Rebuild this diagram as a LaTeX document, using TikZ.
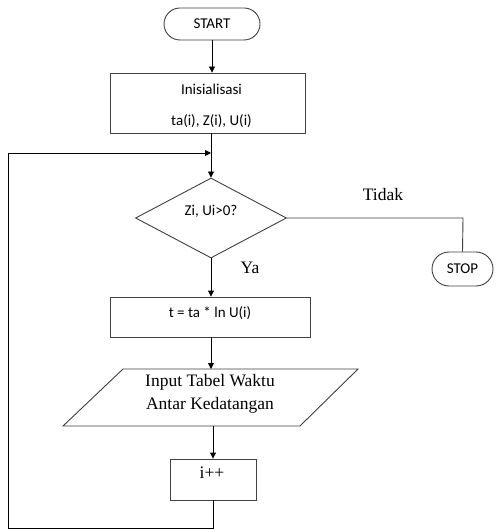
\documentclass[tikz,border=0pt]{standalone}
\usepackage{fontspec}
\setmainfont{Liberation Serif}
\newfontfamily\calfont{Carlito}
\usetikzlibrary{shapes.geometric,shapes.misc,arrows.meta}
\begin{document}
\begin{tikzpicture}[x=1pt,y=-1pt,
  ln/.style={draw=black!75,line width=0.9pt},
  arr/.style={draw=black,line width=0.9pt,-{Triangle[length=6pt,width=6pt]}},
  sf/.style={font=\calfont\fontsize{15}{17}\selectfont},
  rm/.style={font=\fontsize{17.5}{20}\selectfont},
  term/.style={ln,rounded rectangle,inner sep=0pt,sf},
  proc/.style={ln,rectangle,inner sep=0pt},
  txt/.style={inner sep=0pt}]
\useasboundingbox (0,0) rectangle (495,529);
\fill[white] (0,0) rectangle (495,529);
\node[term,minimum width=96pt,minimum height=32pt] (start) at (212,24) {START};
\node[proc,minimum width=195pt,minimum height=60pt] (init) at (207.5,103) {};
\node[txt,sf] (initA) at (211.5,89) {Inisialisasi};
\node[txt,sf] (initB) at (211.5,121) {ta(i), Z(i), U(i)};
\node[ln,diamond,minimum width=151pt,minimum height=80pt,inner sep=0pt] (dec) at (211,218) {};
\node[txt,sf] (decT) at (211,211) {Zi, Ui>0?};
\node[term,minimum width=61pt,minimum height=34pt] (stop) at (462.5,269) {STOP};
\node[proc,minimum width=200pt,minimum height=40pt] (calc) at (210,317) {};
\node[txt,sf] (calcT) at (210,313) {t = ta * ln U(i)};
\draw[ln] (123,369) -- (358,369) -- (300,426) -- (63,426) -- cycle;
\coordinate (ioT) at (211,369);
\coordinate (ioB) at (213,426);
\node[txt,font=\fontsize{17.5}{23}\selectfont,align=center] (ioTxt) at (210,394) {Input Tabel Waktu\\Antar Kedatangan};
\node[proc,minimum width=86pt,minimum height=41pt] (inc) at (213,479.5) {};
\node[txt,rm] (incT) at (212,473) {i++};
\node[txt,rm] (tidak) at (383,195) {Tidak};
\node[txt,rm] (ya) at (250,268) {Ya};
\coordinate (c1) at (8,528);
\coordinate (c2) at (8,153);
\coordinate (c3) at (211,153);
\coordinate (r1) at (463,218);
\draw[arr] (start.south) -- (init.north -| start.south);
\draw[arr] (init.south -| dec.north) -- (dec.north);
\draw[arr] (dec.south) -- (calc.north -| dec.south);
\draw[arr] (calc.south -| dec.south) -- (ioT);
\draw[arr] (ioB) -- (inc.north);
\draw[ln] (dec.east) -- (r1) -- (stop.north);
\draw[arr] (inc.south) -- (inc.south |- c1) -- (c1) -- (c2) -- (c3);
\end{tikzpicture}
\end{document}
